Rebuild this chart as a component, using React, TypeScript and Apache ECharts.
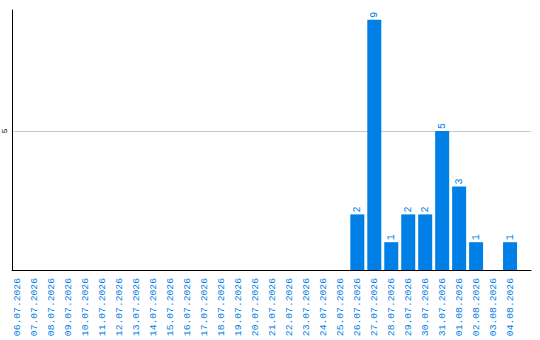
import React, { useEffect, useRef } from "react";
import * as echarts from "echarts";

const dates = [
  "06.07.2026", "07.07.2026", "08.07.2026", "09.07.2026", "10.07.2026",
  "11.07.2026", "12.07.2026", "13.07.2026", "14.07.2026", "15.07.2026",
  "16.07.2026", "17.07.2026", "18.07.2026", "19.07.2026", "20.07.2026",
  "21.07.2026", "22.07.2026", "23.07.2026", "24.07.2026", "25.07.2026",
  "26.07.2026", "27.07.2026", "28.07.2026", "29.07.2026", "30.07.2026",
  "31.07.2026", "01.08.2026", "02.08.2026", "03.08.2026", "04.08.2026",
];

const counts = [
  0, 0, 0, 0, 0, 0, 0, 0, 0, 0,
  0, 0, 0, 0, 0, 0, 0, 0, 0, 0,
  2, 9, 1, 2, 2, 5, 3, 1, 0, 1,
];

const BLUE = "#0080e6";
const FONT = "Liberation Mono";

// Day slots are 17px wide inside a 520px plot; the first day sits 6px in.
const X_MIN = -6 / 17;
const X_MAX = X_MIN + 520 / 17;

export default function App() {
  const ref = useRef<HTMLDivElement>(null);

  useEffect(() => {
    if (!ref.current) return;
    const chart = echarts.init(ref.current, undefined, { renderer: "svg" });
    const dayIdx = dates.map((_, i) => i);
    chart.setOption({
      animation: false,
      grid: { left: 11, right: 9, top: 10, bottom: 70, containLabel: false },
      xAxis: {
        type: "value",
        min: X_MIN,
        max: X_MAX,
        axisLine: { onZero: false, lineStyle: { color: "#000", width: 1 } },
        axisTick: { show: false },
        splitLine: { show: false },
        axisLabel: {
          customValues: dayIdx,
          formatter: (v: number) => dates[Math.round(v)] ?? "",
          rotate: 90,
          margin: 8,
          color: BLUE,
          fontFamily: FONT,
          fontSize: 9.7,
        },
      },
      yAxis: {
        type: "value",
        min: 0,
        max: 9.35,
        interval: 5,
        axisLine: { show: true, onZero: false, lineStyle: { color: "#000", width: 1 } },
        axisTick: { show: false },
        splitLine: {
          show: true,
          showMinLine: false,
          showMaxLine: false,
          lineStyle: { color: "#c8c8c8", width: 1 },
        },
        axisLabel: {
          rotate: 90,
          margin: 4,
          showMinLabel: false,
          showMaxLabel: false,
          color: "#000",
          fontFamily: FONT,
          fontSize: 8,
        },
      },
      series: [
        {
          type: "bar",
          data: counts.map((v, i) => [i, v === 0 ? null : v]),
          barWidth: 14,
          itemStyle: { color: BLUE },
          label: {
            show: true,
            position: "top",
            rotate: 90,
            align: "left",
            verticalAlign: "middle",
            distance: 2,
            color: BLUE,
            fontFamily: FONT,
            fontSize: 10,
          },
        },
      ],
    });
    return () => chart.dispose();
  }, []);

  return <div ref={ref} style={{ width: 540, height: 340, position: "absolute", left: 0, top: 0 }} />;
}
